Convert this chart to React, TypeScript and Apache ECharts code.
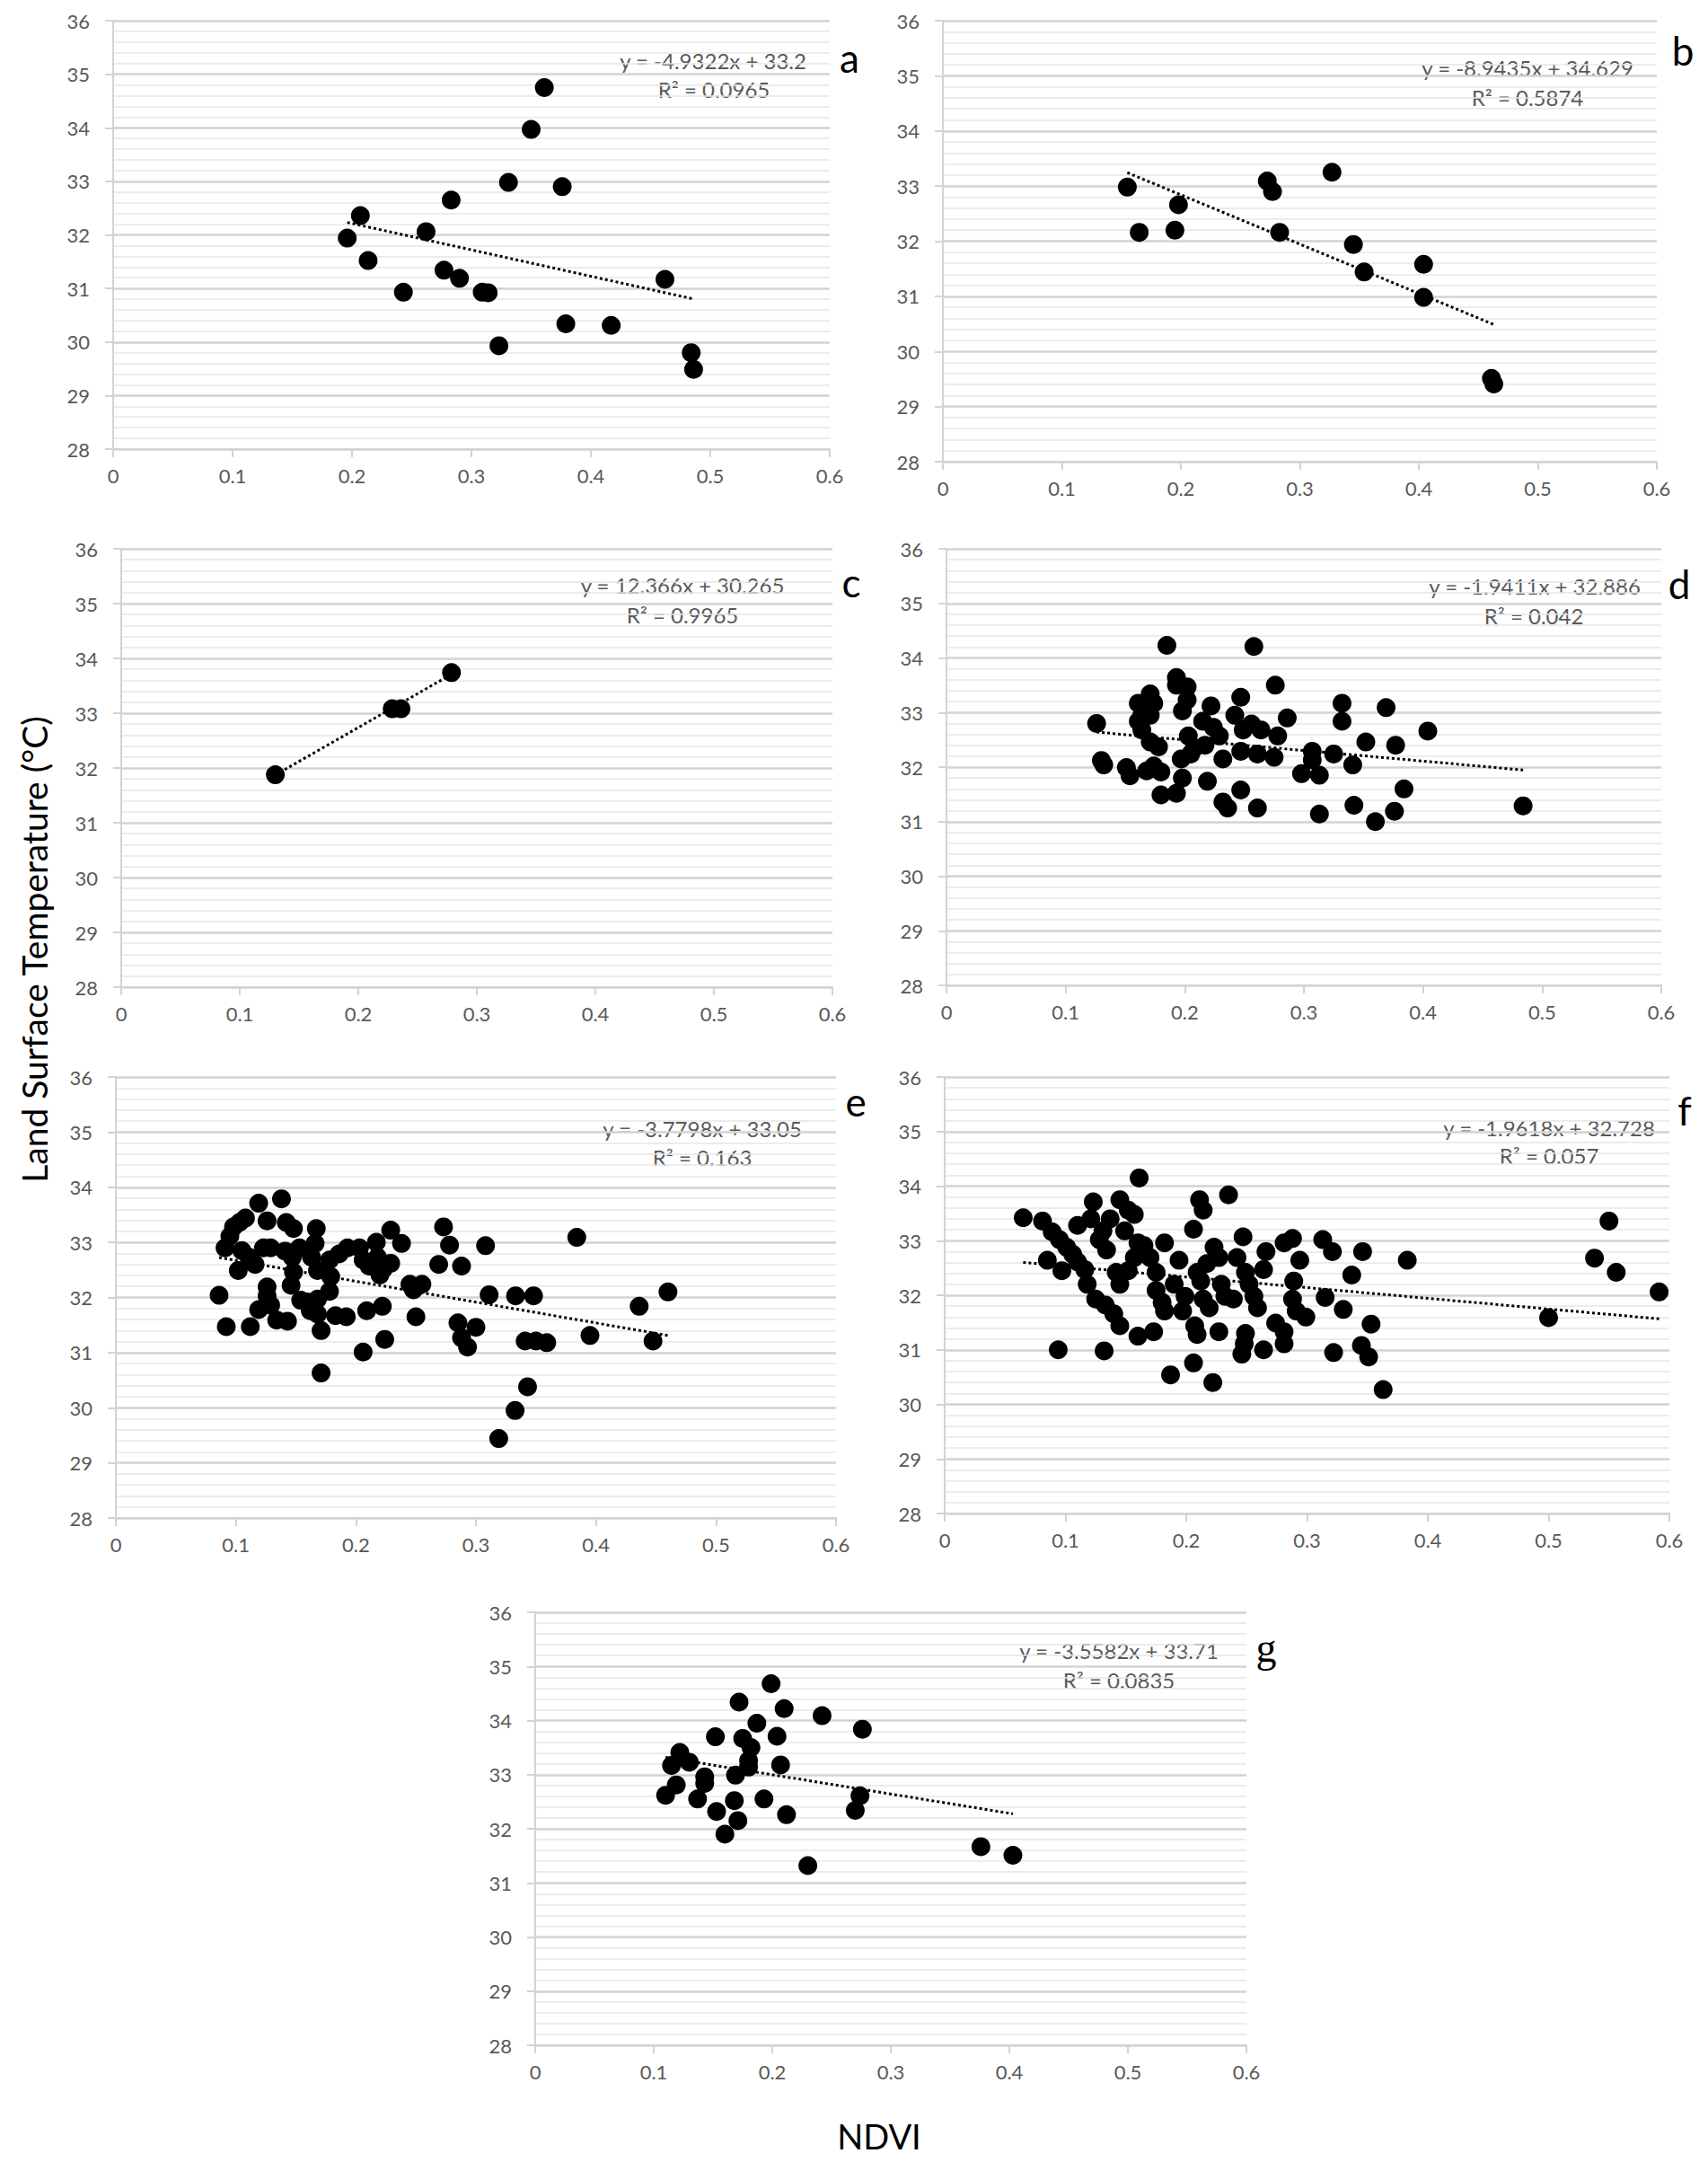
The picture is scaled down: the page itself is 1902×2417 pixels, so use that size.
import React, { useEffect, useRef } from "react";
import * as echarts from "echarts";

// ---------- DATA (NDVI, LST °C) ----------
const panelA: number[][] = [
  [0.196, 31.94], [0.207, 32.36], [0.2135, 31.52], [0.243, 30.93], [0.262, 32.06],
  [0.277, 31.34], [0.283, 32.65], [0.29, 31.19], [0.309, 30.93], [0.314, 30.92],
  [0.323, 29.93], [0.331, 32.98], [0.35, 33.97], [0.361, 34.75], [0.376, 32.9],
  [0.379, 30.34], [0.417, 30.31], [0.462, 31.17], [0.484, 29.8], [0.486, 29.49],
];
const panelB: number[][] = [
  [0.155, 32.98], [0.165, 32.16], [0.195, 32.2], [0.198, 32.66], [0.2726, 33.09],
  [0.277, 32.9], [0.283, 32.16], [0.327, 33.25], [0.345, 31.94], [0.354, 31.44],
  [0.404, 31.58], [0.404, 30.98], [0.461, 29.51], [0.463, 29.41],
];
const panelC: number[][] = [
  [0.13, 31.875], [0.2286, 33.08], [0.236, 33.08], [0.2786, 33.74],
];
const panelD: number[][] = [
  [0.126, 32.8], [0.13, 32.12], [0.132, 32.04], [0.151, 31.99], [0.154, 31.84],
  [0.161, 33.17], [0.164, 32.95], [0.161, 32.84], [0.164, 32.68], [0.168, 31.93],
  [0.171, 33.34], [0.174, 33.17], [0.171, 32.95], [0.171, 32.46], [0.178, 32.37],
  [0.18, 31.91], [0.174, 32.02], [0.18, 31.49], [0.185, 34.23], [0.193, 33.64],
  [0.193, 33.5], [0.202, 33.47], [0.202, 33.23], [0.198, 33.03], [0.193, 31.52],
  [0.198, 31.8], [0.197, 32.15], [0.203, 32.57], [0.205, 32.24], [0.208, 32.35],
  [0.215, 32.84], [0.217, 32.4], [0.222, 33.12], [0.224, 32.73], [0.229, 32.57],
  [0.219, 31.74], [0.232, 32.15], [0.232, 31.36], [0.236, 31.25], [0.242, 32.95],
  [0.247, 33.28], [0.249, 32.68], [0.247, 32.29], [0.247, 31.58], [0.258, 34.21],
  [0.256, 32.79], [0.261, 32.24], [0.264, 32.68], [0.261, 31.25], [0.276, 33.5],
  [0.275, 32.18], [0.278, 32.57], [0.286, 32.9], [0.298, 31.88], [0.307, 32.29],
  [0.307, 32.13], [0.313, 31.85], [0.313, 31.14], [0.325, 32.24], [0.332, 33.17],
  [0.332, 32.84], [0.341, 32.04], [0.342, 31.3], [0.352, 32.46], [0.36, 31.0],
  [0.369, 33.09], [0.377, 32.4], [0.384, 31.6], [0.376, 31.19], [0.404, 32.66],
  [0.484, 31.29],
];
const panelE: number[][] = [
  [0.086, 32.04], [0.092, 31.47], [0.091, 32.9], [0.095, 33.11], [0.098, 33.28],
  [0.103, 33.36], [0.108, 33.44], [0.105, 32.85], [0.102, 32.49], [0.111, 32.73],
  [0.116, 32.6], [0.112, 31.47], [0.119, 33.71], [0.126, 33.39], [0.123, 32.9],
  [0.129, 32.9], [0.126, 32.19], [0.126, 32.03], [0.119, 31.78], [0.129, 31.86],
  [0.134, 31.59], [0.138, 33.79], [0.142, 33.36], [0.148, 33.25], [0.141, 32.84],
  [0.147, 32.73], [0.148, 32.46], [0.146, 32.22], [0.153, 32.9], [0.143, 31.57],
  [0.154, 31.95], [0.159, 31.92], [0.167, 33.25], [0.166, 32.98], [0.163, 32.73],
  [0.168, 32.49], [0.162, 31.76], [0.168, 31.97], [0.168, 31.7], [0.171, 31.4],
  [0.178, 32.11], [0.179, 32.38], [0.178, 32.68], [0.186, 32.79], [0.193, 32.9],
  [0.183, 31.67], [0.192, 31.65], [0.171, 30.63], [0.203, 32.9], [0.206, 32.68],
  [0.211, 32.57], [0.217, 33.0], [0.218, 32.73], [0.22, 32.41], [0.223, 32.52],
  [0.229, 32.62], [0.229, 33.22], [0.238, 32.98], [0.209, 31.76], [0.222, 31.84],
  [0.206, 31.01], [0.224, 31.24], [0.245, 32.24], [0.248, 32.14], [0.255, 32.24],
  [0.25, 31.65], [0.273, 33.28], [0.278, 32.95], [0.269, 32.6], [0.288, 32.57],
  [0.285, 31.54], [0.288, 31.27], [0.293, 31.1], [0.3, 31.46], [0.308, 32.94],
  [0.311, 32.05], [0.333, 32.03], [0.348, 32.03], [0.341, 31.21], [0.35, 31.21],
  [0.343, 30.38], [0.3326, 29.95], [0.319, 29.44], [0.359, 31.18], [0.384, 33.09],
  [0.395, 31.31], [0.436, 31.84], [0.4475, 31.21], [0.46, 32.1],
];
const panelF: number[][] = [
  [0.065, 33.42], [0.081, 33.36], [0.089, 33.16], [0.095, 33.02], [0.101, 32.88],
  [0.106, 32.75], [0.085, 32.64], [0.097, 32.45], [0.11, 32.61], [0.116, 32.47],
  [0.118, 32.2], [0.094, 31.0], [0.11, 33.28], [0.123, 33.71], [0.121, 33.4],
  [0.128, 33.02], [0.134, 32.83], [0.131, 33.18], [0.137, 33.4], [0.145, 33.75],
  [0.152, 33.56], [0.157, 33.48], [0.149, 33.18], [0.142, 32.42], [0.145, 32.2],
  [0.152, 32.45], [0.157, 32.69], [0.16, 32.96], [0.165, 32.91], [0.17, 32.69],
  [0.125, 31.93], [0.133, 31.82], [0.14, 31.66], [0.145, 31.44], [0.132, 30.98],
  [0.161, 34.15], [0.16, 31.25], [0.173, 31.33], [0.182, 32.96], [0.175, 32.42],
  [0.175, 32.09], [0.18, 31.87], [0.182, 31.71], [0.194, 32.64], [0.19, 32.2],
  [0.199, 31.98], [0.197, 31.71], [0.207, 31.44], [0.209, 31.28], [0.187, 30.54],
  [0.206, 30.76], [0.222, 30.4], [0.211, 33.75], [0.214, 33.56], [0.206, 33.21],
  [0.209, 32.42], [0.212, 32.26], [0.217, 32.58], [0.214, 31.93], [0.219, 31.77],
  [0.223, 32.88], [0.227, 32.69], [0.229, 32.2], [0.232, 31.98], [0.227, 31.33],
  [0.235, 33.84], [0.239, 31.93], [0.242, 32.69], [0.247, 33.07], [0.249, 32.42],
  [0.252, 32.2], [0.256, 31.98], [0.259, 31.77], [0.249, 31.3], [0.248, 31.11],
  [0.246, 30.92], [0.264, 32.47], [0.266, 32.8], [0.264, 31.0], [0.274, 31.49],
  [0.281, 31.33], [0.281, 31.11], [0.281, 32.96], [0.288, 33.04], [0.294, 32.64],
  [0.289, 32.26], [0.288, 31.93], [0.291, 31.71], [0.299, 31.6], [0.313, 33.02],
  [0.321, 32.8], [0.315, 31.96], [0.33, 31.74], [0.322, 30.95], [0.337, 32.37],
  [0.346, 32.8], [0.353, 31.47], [0.345, 31.08], [0.351, 30.87], [0.363, 30.27],
  [0.383, 32.64], [0.5, 31.59], [0.538, 32.68], [0.55, 33.36], [0.556, 32.42],
  [0.5915, 32.06],
];
const panelG: number[][] = [
  [0.11, 32.62], [0.119, 32.81], [0.115, 33.17], [0.122, 33.41], [0.13, 33.23],
  [0.137, 32.55], [0.143, 32.96], [0.143, 32.84], [0.152, 33.7], [0.153, 32.32],
  [0.16, 31.9], [0.168, 32.52], [0.169, 32.99], [0.171, 32.15], [0.172, 34.34],
  [0.175, 33.67], [0.182, 33.5], [0.18, 33.14], [0.18, 33.26], [0.187, 33.95],
  [0.193, 32.55], [0.199, 34.68], [0.204, 33.71], [0.207, 33.18], [0.21, 34.22],
  [0.212, 32.26], [0.23, 31.32], [0.242, 34.09], [0.27, 32.34], [0.274, 32.61],
  [0.276, 33.84], [0.376, 31.67], [0.403, 31.51],
];

const panelLetters = ["a", "b", "c", "d", "e", "f", "g"];
const slopes = [-4.9322, -8.9435, 12.366, -1.9411, -3.7798, -1.9618, -3.5582];
const intercepts = [33.2, 34.629, 30.265, 32.886, 33.05, 32.728, 33.71];
const equationTexts = [
  "y = -4.9322x + 33.2", "y = -8.9435x + 34.629", "y = 12.366x + 30.265",
  "y = -1.9411x + 32.886", "y = -3.7798x + 33.05", "y = -1.9618x + 32.728",
  "y = -3.5582x + 33.71",
];
const r2Texts = [
  "R² = 0.0965", "R² = 0.5874", "R² = 0.9965", "R² = 0.042",
  "R² = 0.163", "R² = 0.057", "R² = 0.0835",
];
const trendStartX = [0.196, 0.155, 0.13, 0.126, 0.086, 0.065, 0.11];
const trendEndX = [0.486, 0.463, 0.2786, 0.484, 0.46, 0.5915, 0.403];
const xTicks = ["0", "0.1", "0.2", "0.3", "0.4", "0.5", "0.6"];
const yTicks = ["28", "29", "30", "31", "32", "33", "34", "35", "36"];
const yAxisTitle = "Land Surface Temperature (°C)";
const xAxisTitle = "NDVI";

const panelData = [panelA, panelB, panelC, panelD, panelE, panelF, panelG];

// ---------- LAYOUT ----------
const gridBoxes = [
  { left: 126, top: 23, width: 798, height: 477 },
  { left: 1050, top: 23, width: 795, height: 491 },
  { left: 135, top: 611, width: 792, height: 488 },
  { left: 1054, top: 611, width: 796, height: 486 },
  { left: 129, top: 1199, width: 802, height: 491 },
  { left: 1052, top: 1199, width: 807, height: 486 },
  { left: 596, top: 1795, width: 792, height: 482 },
];
const eqPos = [[794, 67], [1701, 75], [760, 651], [1709, 652], [782, 1256], [1725, 1255], [1246, 1837]];
const r2Pos = [[795, 99], [1701, 108], [760, 684], [1708, 685], [782, 1288], [1725, 1286], [1246, 1870]];
const letterPos = [[946, 64], [1874, 56], [948, 648], [1870, 650], [953, 1226], [1876, 1236], [1410, 1834]];

const FONT = "Lato, 'Liberation Sans', Arial, sans-serif";
const GRAY = "#595959";

export default function App() {
  const ref = useRef<HTMLDivElement>(null);
  useEffect(() => {
    document.body.style.margin = "0";
    if (!ref.current) return;
    const chart = echarts.init(ref.current, undefined, { renderer: "svg" });

    const grid = gridBoxes.map((g) => ({ ...g, containLabel: false }));
    const xAxis = gridBoxes.map((_, i) => ({
      type: "value",
      gridIndex: i,
      min: 0,
      max: 0.6,
      interval: 0.1,
      axisLine: { show: true, onZero: false, lineStyle: { color: "#d3d3d3", width: 2 } },
      axisTick: { show: true, length: 9, lineStyle: { color: "#d3d3d3", width: 2 } },
      splitLine: { show: false },
      axisLabel: {
        fontSize: 22,
        color: GRAY,
        fontFamily: FONT,
        margin: 18,
        formatter: (v: number) => xTicks[Math.round(v * 10)] ?? String(v),
      },
    }));
    const yAxis = gridBoxes.map((_, i) => ({
      type: "value",
      gridIndex: i,
      min: 28,
      max: 36,
      interval: 1,
      axisLine: { show: true, onZero: false, lineStyle: { color: "#d3d3d3", width: 2 } },
      axisTick: { show: true, length: 9, lineStyle: { color: "#d3d3d3", width: 2 } },
      splitLine: { show: true, lineStyle: { color: "#d3d3d3", width: 2.5 } },
      minorTick: { show: false, splitNumber: 5 },
      minorSplitLine: { show: true, lineStyle: { color: "#e6e6e6", width: 1.5 } },
      axisLabel: {
        fontSize: 22,
        color: GRAY,
        fontFamily: FONT,
        margin: 26,
        formatter: (v: number) => yTicks[Math.round(v - 28)] ?? String(v),
      },
    }));

    const series: any[] = [];
    panelData.forEach((data, i) => {
      const x0 = trendStartX[i];
      const x1 = trendEndX[i];
      series.push({
        type: "line",
        xAxisIndex: i,
        yAxisIndex: i,
        data: [
          [x0, slopes[i] * x0 + intercepts[i]],
          [x1, slopes[i] * x1 + intercepts[i]],
        ],
        symbol: "none",
        silent: true,
        z: 2,
        lineStyle: { color: "#000", width: 3, type: [3, 3] },
      });
      series.push({
        type: "scatter",
        xAxisIndex: i,
        yAxisIndex: i,
        data,
        symbol: "circle",
        symbolSize: 21,
        z: 3,
        itemStyle: { color: "#000", opacity: 1 },
      });
    });

    const graphic: any[] = [];
    for (let i = 0; i < 7; i++) {
      graphic.push({
        type: "text",
        x: eqPos[i][0],
        y: eqPos[i][1],
        style: {
          text: equationTexts[i],
          fill: GRAY,
          font: `24px ${FONT}`,
          textAlign: "center",
          textVerticalAlign: "middle",
        },
      });
      graphic.push({
        type: "text",
        x: r2Pos[i][0],
        y: r2Pos[i][1],
        style: {
          text: r2Texts[i],
          fill: GRAY,
          font: `24px ${FONT}`,
          textAlign: "center",
          textVerticalAlign: "middle",
        },
      });
      graphic.push({
        type: "text",
        x: letterPos[i][0],
        y: letterPos[i][1],
        style: {
          text: panelLetters[i],
          fill: "#000",
          font: i === 6 ? `46px 'Liberation Serif', serif` : `44px ${FONT}`,
          textAlign: "center",
          textVerticalAlign: "middle",
        },
      });
    }
    graphic.push({
      type: "text",
      x: 38,
      y: 1057,
      rotation: Math.PI / 2,
      style: {
        text: yAxisTitle,
        fill: "#000",
        font: `39px ${FONT}`,
        textAlign: "center",
        textVerticalAlign: "middle",
      },
    });
    graphic.push({
      type: "text",
      x: 979,
      y: 2378,
      style: {
        text: xAxisTitle,
        fill: "#000",
        font: `38px ${FONT}`,
        textAlign: "center",
        textVerticalAlign: "middle",
      },
    });

    chart.setOption({
      animation: false,
      backgroundColor: "#fff",
      grid,
      xAxis,
      yAxis,
      series,
      graphic,
    });
    return () => chart.dispose();
  }, []);
  return <div ref={ref} style={{ width: 1902, height: 2417 }} />;
}
